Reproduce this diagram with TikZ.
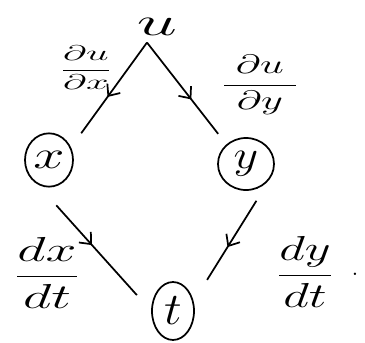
\RequirePackage{fix-cm}
\documentclass[tikz,border=0pt]{standalone}
\usetikzlibrary{shapes.geometric,arrows.meta,decorations.markings}
\newcommand\hwide[2]{\scalebox{#1}[1]{#2}}
\begin{document}
\begin{tikzpicture}[x=0.75pt,y=-0.75pt,
  edge/.style={line width=1.3pt},
  var/.style={draw,ellipse,line width=1.3pt,inner sep=0pt,font=\fontsize{30}{34}\selectfont},
  midarrow/.style={postaction={decorate},decoration={markings,mark=at position #1 with {\arrow{Straight Barb[length=7pt,width=12pt]}}}},
  lbl/.style={inner sep=0pt}]
\useasboundingbox (0,0) rectangle (365,343);
% nodes
\node[lbl,font=\fontsize{30}{34}\selectfont] (u) at (157,27) {\hwide{1.8}{$u$}};
\node[var,minimum width=36pt,minimum height=40pt] (x) at (49,160) {\hwide{1.4}{$x$}};
\node[var,minimum width=42pt,minimum height=39pt] (y) at (246,164) {\hwide{1.2}{$y$}};
\node[var,minimum width=31.5pt,minimum height=43.5pt,font=\fontsize{34}{38}\selectfont] (t) at (173,311) {\hwide{1.1}{$t$}};
% labels
\node[lbl,font=\fontsize{16}{19}\selectfont] (dudx) at (86,68) {\hwide{1.9}{$\displaystyle\frac{\partial u}{\partial x}$}};
\node[lbl,font=\fontsize{20}{24}\selectfont] (dudy) at (260,85) {\hwide{1.6}{$\displaystyle\frac{\;\partial u\;}{\;\partial y\;}$}};
\node[lbl,font=\fontsize{26}{30}\selectfont] (dxdt) at (47,273) {\hwide{1.6}{$\displaystyle\frac{dx}{dt}$}};
\node[lbl,font=\fontsize{26}{30}\selectfont] (dydt) at (305,272) {\hwide{1.45}{$\displaystyle\frac{dy}{dt}$}};
\node[lbl,font=\fontsize{22}{26}\selectfont] (dot) at (355,274) {.};
% connectors
\draw[edge,midarrow=0.52,shorten >=13pt] ([shift={(-7.5pt,-5pt)}]u.south) -- (x.30);
\draw[edge,midarrow=0.56,shorten >=10pt] ([shift={(-7.5pt,-5pt)}]u.south) -- (y.135);
\draw[edge,midarrow=0.48,shorten <=21pt,shorten >=16pt] (x.-115) -- (t.west);
\draw[edge,midarrow=0.56,shorten <=20pt,shorten >=19pt] (y.-30) -- (t.25);
\end{tikzpicture}
\end{document}
